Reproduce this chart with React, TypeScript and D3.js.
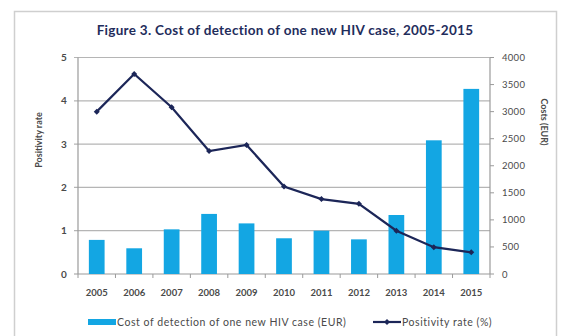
import React from "react";
import * as d3 from "d3";

const years = ["2005","2006","2007","2008","2009","2010","2011","2012","2013","2014","2015"];
const costs = [630, 475, 825, 1110, 935, 660, 800, 640, 1090, 2470, 3420];
const positivity = [3.75, 4.62, 3.85, 2.84, 2.98, 2.02, 1.73, 1.62, 1.0, 0.62, 0.5];
const leftTicks = [0, 1, 2, 3, 4, 5];
const rightTicks = [0, 500, 1000, 1500, 2000, 2500, 3000, 3500, 4000];

const W = 566, H = 336;
const M = { left: 78, right: 490, top: 57.5, bottom: 274 };
const FONT = "Lato, 'Open Sans', sans-serif";
const BAR = "#13a6e3";
const LINE = "#1c2658";
const AXIS = "#9a9a9a";
const TXT = "#4a4a4a";

export default function App() {
  const x = d3.scaleBand<string>().domain(years).range([M.left, M.right]).paddingInner(0.58).paddingOuter(0.29);
  const xc = d3.scaleBand<string>().domain(years).range([M.left, M.right]);
  const yL = d3.scaleLinear().domain([0, 5]).range([M.bottom, M.top]);
  const yR = d3.scaleLinear().domain([0, 4000]).range([M.bottom, M.top]);
  const line = d3.line<number>().x((_, i) => xc(years[i])! + xc.bandwidth() / 2).y((d) => yL(d));
  const sep = d3.range(years.length + 1).map((i) => M.left + i * xc.bandwidth());

  return (
    <svg width={W} height={H} style={{ position: "absolute", left: 0, top: 0 }} fontFamily={FONT}>
      <rect x={0} y={0} width={W} height={H} fill="#fff" />
      <rect x={14.5} y={11.5} width={542} height={340} fill="none" stroke="#cfcfcf" strokeWidth={1.5} />
      <text x={285} y={35} textAnchor="middle" fontSize={13.5} fontWeight={700} letterSpacing={0.3} fill="#1f2d5c">
        Figure 3. Cost of detection of one new HIV case, 2005-2015
      </text>
      {leftTicks.map((t) => (
        <g key={"g" + t}>
          <line x1={M.left - 4} x2={M.right} y1={yL(t)} y2={yL(t)} stroke={t === 0 ? AXIS : "#b5b5b5"} strokeWidth={1.2} />
          <text x={64} y={yL(t) + 3.5} textAnchor="middle" fontSize={10} fontWeight={700} fill={TXT}>{t}</text>
        </g>
      ))}
      {costs.map((c, i) => (
        <rect key={"b" + i} x={x(years[i])} y={yR(c)} width={x.bandwidth()} height={M.bottom - yR(c)} fill={BAR} />
      ))}
      <line x1={M.left} x2={M.left} y1={M.top} y2={M.bottom} stroke={AXIS} strokeWidth={1.2} />
      <line x1={M.right} x2={M.right} y1={M.top} y2={M.bottom} stroke={AXIS} strokeWidth={1.2} />
      {sep.map((s, i) => (
        <line key={"s" + i} x1={s} x2={s} y1={M.bottom} y2={M.bottom + 4} stroke={AXIS} strokeWidth={1} />
      ))}
      {rightTicks.map((t) => (
        <g key={"r" + t}>
          <line x1={M.right} x2={M.right + 4} y1={yR(t)} y2={yR(t)} stroke={AXIS} strokeWidth={1} />
          <text x={502} y={yR(t) + 3.5} fontSize={9.5} letterSpacing={0.3} fill={TXT}>{t}</text>
        </g>
      ))}
      {years.map((yv) => (
        <text key={"y" + yv} x={xc(yv)! + xc.bandwidth() / 2} y={296} textAnchor="middle" fontSize={9.5} fontWeight={700} fill={TXT}>{yv}</text>
      ))}
      <path d={line(positivity)!} fill="none" stroke={LINE} strokeWidth={2.2} />
      {positivity.map((p, i) => {
        const cx = xc(years[i])! + xc.bandwidth() / 2;
        const cy = yL(p);
        return <path key={"m" + i} d={`M${cx},${cy - 3}L${cx + 3},${cy}L${cx},${cy + 3}L${cx - 3},${cy}Z`} fill={LINE} />;
      })}
      <text transform={`translate(42,140) rotate(-90)`} textAnchor="middle" fontSize={9} fontWeight={700} fill={TXT}>Positivity rate</text>
      <text transform={`translate(541,122) rotate(90)`} textAnchor="middle" fontSize={9} fontWeight={700} fill={TXT}>Costs (EUR)</text>
      <rect x={88} y={319} width={28} height={6} fill={BAR} />
      <text x={117} y={325.5} fontSize={10.5} letterSpacing={0.55} fill={TXT}>Cost of detection of one new HIV case (EUR)</text>
      <line x1={373} x2={401} y1={322} y2={322} stroke={LINE} strokeWidth={2.2} />
      <path d="M387,319L390,322L387,325L384,322Z" fill={LINE} />
      <text x={402} y={325.5} fontSize={10.5} letterSpacing={0.55} fill={TXT}>Positivity rate (%)</text>
    </svg>
  );
}
